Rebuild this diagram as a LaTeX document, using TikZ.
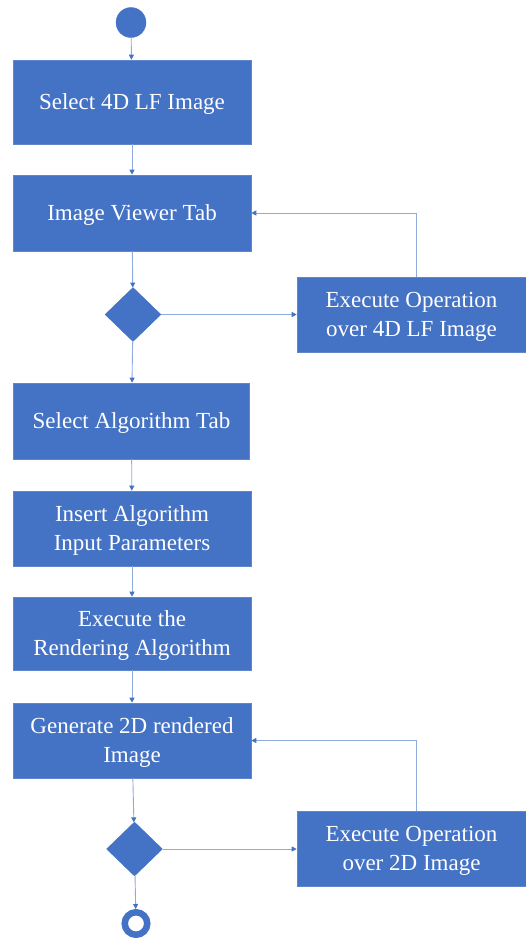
\documentclass[tikz,border=0pt]{standalone}
\usepackage{fontspec}
\setmainfont{Liberation Serif}
\usetikzlibrary{shapes.geometric,arrows.meta}
\definecolor{boxblue}{HTML}{4472C4}
\definecolor{lineblue}{HTML}{8FAADC}
\tikzset{
  stepbox/.style={rectangle, fill=boxblue, draw=boxblue!85!white, line width=0.6pt, text=white,
    font=\fontsize{23}{29}\selectfont, align=center, inner sep=0pt, text depth=0pt},
  decision/.style={diamond, fill=boxblue, draw=boxblue, inner sep=0pt, minimum width=56, minimum height=54, aspect=1},
  flow/.style={draw=lineblue, line width=0.9pt, -{Triangle[length=5pt,width=5pt,fill=boxblue,color=boxblue]}},
}
\begin{document}
\begin{tikzpicture}[x=1pt,y=-1pt]
\useasboundingbox (0,0) rectangle (526,938);
\node[circle, fill=boxblue, draw=boxblue, minimum size=30, inner sep=0pt] (start) at (131,22.5) {};
\node[stepbox, minimum width=238, minimum height=84] (b1) at (132,102) {Select 4D LF Image};
\node[stepbox, minimum width=238, minimum height=76] (b2) at (132,213) {Image Viewer Tab};
\node[decision] (d1) at (133,314.5) {};
\node[stepbox, minimum width=229, minimum height=75] (r1) at (411.5,314.5) {Execute Operation\\over 4D LF Image};
\node[stepbox, minimum width=236, minimum height=76] (b3) at (131.5,421) {Select Algorithm Tab};
\node[stepbox, minimum width=238, minimum height=75] (b4) at (132,528.5) {Insert Algorithm\\Input Parameters};
\node[stepbox, minimum width=238, minimum height=73] (b5) at (132,633.5) {Execute the\\Rendering Algorithm};
\node[stepbox, minimum width=238, minimum height=75] (b6) at (132,740.5) {Generate 2D rendered\\Image};
\node[decision] (d2) at (134.5,849) {};
\node[stepbox, minimum width=229, minimum height=75] (r2) at (411.5,848.5) {Execute Operation\\over 2D Image};
\node[circle, fill=white, draw=boxblue, line width=6.5pt, minimum size=22.5, inner sep=0pt] (end) at (136,923.5) {};
\coordinate (fb1) at (416,213);
\coordinate (fb2) at (416,740.5);

\draw[flow] (start) -- (b1);
\draw[flow] (b1) -- (b2);
\draw[flow] (b2) -- (d1);
\draw[flow] (d1.east) -- (d1.east -| r1.west);
\draw[flow] (fb1 |- r1.north) |- (b2.east);
\draw[flow] (d1) -- (b3);
\draw[flow] (b3) -- (b4);
\draw[flow] (b4) -- (b5);
\draw[flow] (b5) -- (b6);
\draw[flow] (b6) -- (d2);
\draw[flow] (d2.east) -- (d2.east -| r2.west);
\draw[flow] (fb2 |- r2.north) |- (b6.east);
\draw[flow] (d2) -- (end);
\end{tikzpicture}
\end{document}
